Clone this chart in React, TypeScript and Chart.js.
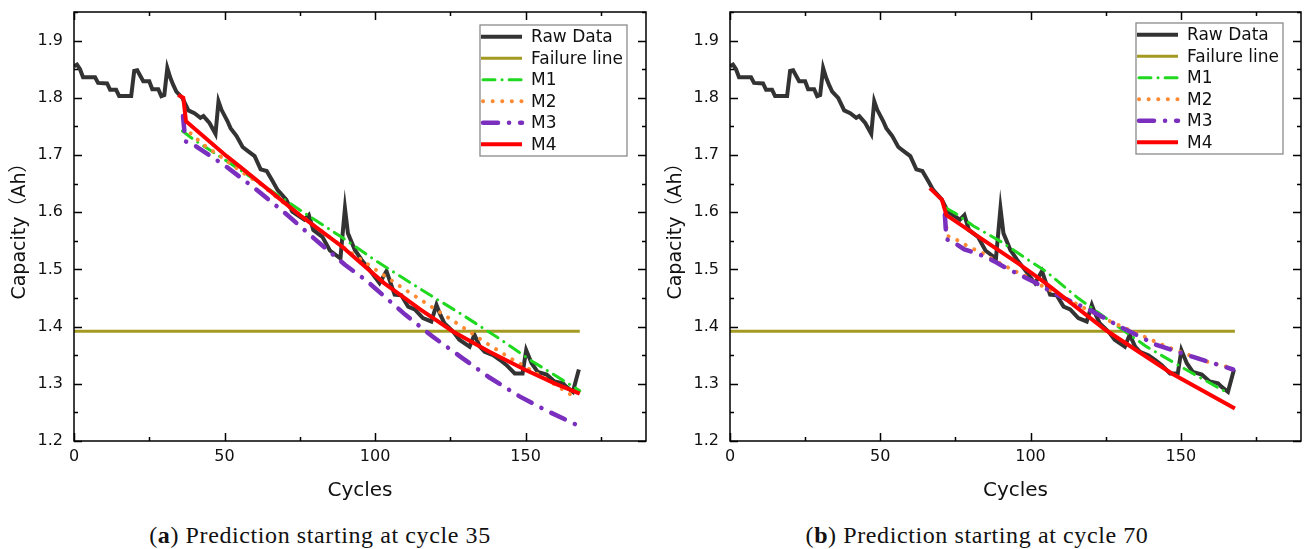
import React, { useEffect, useRef } from "react";
import { Chart, registerables } from "chart.js";

Chart.register(...registerables);

// ---------- data ----------
const rawCycles = [
  0, 1, 2, 3, 7, 8, 11, 12, 14, 15, 19, 20, 21, 23, 25, 26, 28, 29, 30, 31, 32, 33, 34, 36, 38, 40, 42, 43, 45, 47,
  48, 49, 51, 52, 54, 56, 58, 60, 62, 64, 66, 67.6, 70.5, 72.5, 76.5, 78, 79.5, 82.5, 85, 88.5, 90, 91, 93.3, 95.5,
  98, 101.5, 103.8, 106.5, 108.7, 111, 113.2, 115.9, 118.7, 120.4, 121.5, 123, 126, 128, 131.4, 133, 134.8, 136.4,
  139.2, 141.4, 143.6, 146.4, 149, 150.2, 152, 154, 157, 159.6, 162.4, 163.5, 165.7, 167.7,
];
const rawCapacity = [
  1.855, 1.858, 1.85, 1.836, 1.836, 1.826, 1.825, 1.814, 1.814, 1.803, 1.803, 1.847, 1.848, 1.829, 1.829, 1.815,
  1.815, 1.803, 1.805, 1.852, 1.835, 1.822, 1.811, 1.8, 1.778, 1.773, 1.765, 1.768, 1.756, 1.737, 1.794, 1.779,
  1.759, 1.747, 1.733, 1.714, 1.706, 1.698, 1.675, 1.672, 1.654, 1.639, 1.622, 1.601, 1.587, 1.595, 1.569, 1.557,
  1.533, 1.519, 1.607, 1.563, 1.534, 1.517, 1.5, 1.476, 1.497, 1.456, 1.455, 1.435, 1.43, 1.415, 1.409, 1.438,
  1.423, 1.406, 1.391, 1.377, 1.365, 1.386, 1.365, 1.356, 1.35, 1.342, 1.333, 1.318, 1.318, 1.359, 1.336, 1.321,
  1.316, 1.304, 1.301, 1.295, 1.286, 1.325,
];

const failureCycles = [0, 168];
const failureCapacity = [1.392, 1.392];

// (a) prediction starting at cycle 35
const aM1Cycles = [36, 40, 50, 62, 75, 89, 100, 118, 128, 141, 152, 168];
const aM1Capacity = [1.742, 1.726, 1.692, 1.65, 1.604, 1.556, 1.516, 1.456, 1.424, 1.38, 1.34, 1.288];
const aM2Cycles = [36.5, 38.7, 43, 48, 55.6, 62.3, 69, 88.3, 97, 109.3, 120.4, 128, 137, 145.8, 157, 165, 167];
const aM2Capacity = [
  1.75, 1.738, 1.718, 1.7, 1.671, 1.648, 1.619, 1.543, 1.511, 1.467, 1.429, 1.403, 1.371, 1.342, 1.308, 1.281, 1.276,
];
const aM3Cycles = [36.2, 37, 40, 50, 60, 70, 80, 90, 97, 110, 119, 129, 138, 148, 157, 167];
const aM3Capacity = [
  1.768, 1.724, 1.717, 1.682, 1.642, 1.599, 1.553, 1.508, 1.481, 1.421, 1.383, 1.345, 1.311, 1.278, 1.253, 1.228,
];
const aM4Cycles = [34.6, 36.3, 37.2, 50.7, 55, 75, 89, 103, 115, 126, 138, 150, 160, 168];
const aM4Capacity = [1.805, 1.8, 1.759, 1.698, 1.68, 1.595, 1.54, 1.476, 1.43, 1.391, 1.356, 1.324, 1.3, 1.283];

// (b) prediction starting at cycle 70
const bM1Cycles = [72, 75, 81, 90, 100, 105, 116, 127.5, 138.6, 152, 166];
const bM1Capacity = [1.607, 1.598, 1.576, 1.549, 1.514, 1.497, 1.449, 1.406, 1.365, 1.324, 1.283];
const bM2Cycles = [71.5, 72.5, 74.3, 79.3, 84.2, 87, 94.8, 97.5, 104.2, 125.3, 145.2, 158.5, 167.4];
const bM2Capacity = [1.59, 1.558, 1.555, 1.54, 1.528, 1.519, 1.497, 1.491, 1.47, 1.412, 1.365, 1.339, 1.327];
const bM3Cycles = [71.5, 72, 74.8, 78, 82, 85.4, 88, 92, 100.9, 108.6, 119.7, 130.8, 141.9, 154.1, 167.4];
const bM3Capacity = [
  1.596, 1.553, 1.546, 1.535, 1.528, 1.521, 1.514, 1.502, 1.479, 1.456, 1.429, 1.397, 1.368, 1.347, 1.325,
];
const bM4Cycles = [66.5, 70.5, 72, 83, 96, 105, 125, 147, 168];
const bM4Capacity = [1.642, 1.622, 1.595, 1.556, 1.51, 1.476, 1.394, 1.318, 1.257];

// axis ticks
const xMajorTicks = [0, 50, 100, 150];
const xMinorTicks = [25, 75, 125, 175];
const yMajorTicks = [1.2, 1.3, 1.4, 1.5, 1.6, 1.7, 1.8, 1.9];
const yMinorTicks = [1.25, 1.35, 1.45, 1.55, 1.65, 1.75, 1.85, 1.95];

const seriesNames = ["Raw Data", "Failure line", "M1", "M2", "M3", "M4"];

const FONT = "'DejaVu Sans', 'Noto Sans CJK SC', sans-serif";

const pts = (xs: number[], ys: number[]) => xs.map((x, i) => ({ x, y: ys[i] }));

const styles = [
  { borderColor: "#333333", borderWidth: 4, borderDash: [], borderCapStyle: "butt", order: 6 },
  { borderColor: "#a39a22", borderWidth: 3, borderDash: [], borderCapStyle: "butt", order: 5 },
  { borderColor: "#1fd81f", borderWidth: 3, borderDash: [12, 7, 0.1, 7], borderCapStyle: "round", order: 4 },
  { borderColor: "#ff8a33", borderWidth: 4, borderDash: [0.1, 9.5], borderCapStyle: "round", order: 3 },
  { borderColor: "#7b2fbe", borderWidth: 4.5, borderDash: [15, 11, 0.1, 11], borderCapStyle: "round", order: 2 },
  { borderColor: "#ff0000", borderWidth: 4, borderDash: [], borderCapStyle: "butt", order: 1 },
];

const framePlugin = {
  id: "frameTicks",
  afterDatasetsDraw(chart: any) {
    const { ctx, chartArea: a, scales } = chart;
    const xs = scales.x;
    const ys = scales.y;
    ctx.save();
    ctx.strokeStyle = "#000";
    ctx.lineWidth = 1.5;
    ctx.setLineDash([]);
    ctx.strokeRect(a.left, a.top, a.right - a.left, a.bottom - a.top);
    const tick = (vals: number[], len: number, horiz: boolean) => {
      for (const v of vals) {
        ctx.beginPath();
        if (horiz) {
          const p = Math.round(xs.getPixelForValue(v)) + 0.5;
          ctx.moveTo(p, a.bottom);
          ctx.lineTo(p, a.bottom - len);
          ctx.moveTo(p, a.top);
          ctx.lineTo(p, a.top + len);
        } else {
          const p = Math.round(ys.getPixelForValue(v)) + 0.5;
          ctx.moveTo(a.left, p);
          ctx.lineTo(a.left + len, p);
          ctx.moveTo(a.right, p);
          ctx.lineTo(a.right - len, p);
        }
        ctx.stroke();
      }
    };
    tick(xMajorTicks, 8, true);
    tick(xMinorTicks, 4, true);
    tick(yMajorTicks, 8, false);
    tick(yMinorTicks, 4, false);
    ctx.restore();
  },
};

const legendPlugin = {
  id: "boxLegend",
  afterDraw(chart: any, _args: any, opts: any) {
    const { ctx, chartArea: a } = chart;
    const w = 147;
    const h = 131;
    const left = a.right - opts.right - w;
    const top = opts.top;
    ctx.save();
    ctx.fillStyle = "#fff";
    ctx.fillRect(left, top, w, h);
    ctx.strokeStyle = "#8a8a8a";
    ctx.lineWidth = 1.3;
    ctx.setLineDash([]);
    ctx.strokeRect(left, top, w, h);
    ctx.font = `17px ${FONT}`;
    ctx.textBaseline = "middle";
    ctx.fillStyle = "#111";
    chart.data.datasets.forEach((ds: any, i: number) => {
      const y = top + 11.7 + i * 21.5;
      ctx.beginPath();
      ctx.strokeStyle = ds.borderColor;
      ctx.lineWidth = ds.borderWidth;
      ctx.lineCap = ds.borderCapStyle;
      ctx.setLineDash(ds.borderDash || []);
      const x0 = left + (ds.borderCapStyle === "round" ? 3 : 1);
      ctx.moveTo(x0, y);
      ctx.lineTo(left + 42, y);
      ctx.stroke();
      ctx.setLineDash([]);
      ctx.fillText(ds.label, left + 51, y + 1);
    });
    ctx.restore();
  },
};

type PanelProps = {
  left: number;
  width: number;
  padRight: number;
  legendRight: number;
  legendTop: number;
  series: { x: number[]; y: number[] }[];
};

function Panel({ left, width, padRight, legendRight, legendTop, series }: PanelProps) {
  const ref = useRef<HTMLCanvasElement>(null);
  useEffect(() => {
    const datasets = series.map((s, i) => ({
      label: seriesNames[i],
      data: pts(s.x, s.y),
      ...styles[i],
      pointRadius: 0,
      tension: 0,
      fill: false,
    }));
    const chart = new Chart(ref.current as HTMLCanvasElement, {
      type: "line",
      data: { datasets: datasets as any },
      options: {
        animation: false,
        responsive: false,
        devicePixelRatio: 1,
        layout: { padding: { left: 0, right: padRight, top: 12, bottom: 0 } },
        plugins: {
          legend: { display: false },
          tooltip: { enabled: false },
          boxLegend: { right: legendRight, top: legendTop },
        } as any,
        scales: {
          x: {
            type: "linear",
            min: 0,
            max: 190,
            grid: { display: false, drawTicks: false },
            border: { display: false },
            afterBuildTicks: (s: any) => {
              s.ticks = xMajorTicks.map((v) => ({ value: v }));
            },
            afterFit: (s: any) => {
              s.height = 69;
              s.paddingLeft = 0;
              s.paddingRight = 0;
            },
            ticks: {
              padding: 6,
              color: "#111",
              font: { family: FONT, size: 16 },
              maxRotation: 0,
              callback: (v: any) => String(v),
            },
            title: {
              display: true,
              text: "Cycles",
              color: "#111",
              font: { family: FONT, size: 20 },
              padding: { top: 0, bottom: 7 },
            },
          },
          y: {
            type: "linear",
            min: 1.2,
            max: 1.95,
            grid: { display: false, drawTicks: false },
            border: { display: false },
            afterBuildTicks: (s: any) => {
              s.ticks = yMajorTicks.map((v) => ({ value: v }));
            },
            afterFit: (s: any) => {
              s.width = 74;
              s.paddingTop = 0;
              s.paddingBottom = 0;
            },
            ticks: {
              padding: 11,
              color: "#111",
              font: { family: FONT, size: 16 },
              callback: (v: any) => Number(v).toFixed(1),
            },
            title: {
              display: true,
              text: "Capacity（Ah）",
              color: "#111",
              font: { family: FONT, size: 19 },
              padding: { top: 9, bottom: 0 },
            },
          },
        },
      } as any,
      plugins: [framePlugin, legendPlugin],
    });
    return () => chart.destroy();
  }, []);
  return (
    <canvas
      ref={ref}
      width={width}
      height={510}
      style={{ position: "absolute", left, top: 0, width, height: 510 }}
    />
  );
}

const captionStyle: React.CSSProperties = {
  position: "absolute",
  top: 521,
  width: 650,
  textAlign: "center",
  fontFamily: "'Liberation Serif', 'DejaVu Serif', serif",
  fontSize: 24,
  letterSpacing: "0.6px",
  lineHeight: "28px",
  color: "#111",
  whiteSpace: "nowrap",
};

export default function App() {
  const common = [
    { x: rawCycles, y: rawCapacity },
    { x: failureCycles, y: failureCapacity },
  ];
  const seriesA = [
    ...common,
    { x: aM1Cycles, y: aM1Capacity },
    { x: aM2Cycles, y: aM2Capacity },
    { x: aM3Cycles, y: aM3Capacity },
    { x: aM4Cycles, y: aM4Capacity },
  ];
  const seriesB = [
    ...common,
    { x: bM1Cycles, y: bM1Capacity },
    { x: bM2Cycles, y: bM2Capacity },
    { x: bM3Cycles, y: bM3Capacity },
    { x: bM4Cycles, y: bM4Capacity },
  ];
  return (
    <div style={{ position: "absolute", left: 0, top: 0, width: 1304, height: 549, background: "#fff", overflow: "hidden" }}>
      <Panel left={0} width={652} padRight={6} legendRight={19} legendTop={25} series={seriesA} />
      <Panel left={656} width={648} padRight={3} legendRight={18} legendTop={23} series={seriesB} />
      <div style={{ ...captionStyle, left: -5 }}>
        (<b>a</b>) Prediction starting at cycle 35
      </div>
      <div style={{ ...captionStyle, left: 652 }}>
        (<b>b</b>) Prediction starting at cycle 70
      </div>
    </div>
  );
}
